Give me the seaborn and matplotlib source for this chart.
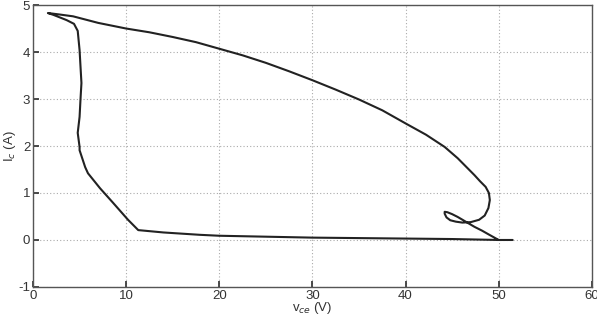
import matplotlib
matplotlib.use("Agg")
import matplotlib.pyplot as plt
import seaborn as sns
import pandas as pd

# Trajectory (v_ce in V, I_c in A)
v_ce = [51.5, 50.0, 49.0, 48.2, 47.4, 46.8, 46.2, 45.6, 45.0, 44.5, 44.2, 44.2, 44.4,
        44.8, 45.4, 46.1, 47.0, 47.9,
        48.5, 48.9, 49.05, 48.95, 48.6, 48.0, 47.4, 46.8, 45.6, 44.2, 42.2, 40.1, 37.5,
        35.0, 32.5, 30.0, 27.5, 25.0, 22.5, 20.0, 17.5, 15.0, 12.5, 10.0, 7.0, 4.3, 2.8, 1.6,
        2.2, 3.6, 4.4, 4.8, 5.0, 5.2, 5.1, 5.0, 4.8, 5.0, 5.0, 5.6, 5.9, 7.2, 8.6, 10.2,
        11.3, 14.0, 17.9, 20.0, 25.0, 30.0, 35.0, 40.0, 45.0, 50.0]
i_c = [0.0, 0.0, 0.11, 0.20, 0.28, 0.35, 0.42, 0.49, 0.55, 0.59, 0.60, 0.56, 0.48,
       0.42, 0.39, 0.37, 0.38, 0.43,
       0.52, 0.68, 0.85, 1.00, 1.13, 1.25, 1.38, 1.50, 1.74, 1.98, 2.24, 2.47, 2.76,
       2.99, 3.20, 3.40, 3.59, 3.77, 3.93, 4.07, 4.21, 4.32, 4.42, 4.50, 4.62, 4.76, 4.80, 4.83,
       4.79, 4.68, 4.60, 4.45, 4.04, 3.34, 3.00, 2.62, 2.28, 1.98, 1.91, 1.55, 1.42, 1.10,
       0.79, 0.43, 0.21, 0.16, 0.11, 0.09, 0.07, 0.05, 0.04, 0.03, 0.02, 0.0]

x_ticks = [0, 10, 20, 30, 40, 50, 60]
y_ticks = [-1, 0, 1, 2, 3, 4, 5]

df = pd.DataFrame({"v": v_ce, "i": i_c})

sns.set_theme(style="ticks")
plt.rcParams["font.family"] = ["Liberation Sans", "DejaVu Sans"]

fig = plt.figure(figsize=(5.97, 3.15), dpi=100)
ax = fig.add_axes([0.0553, 0.089, 0.936, 0.895])

sns.lineplot(data=df, x="v", y="i", sort=False, estimator=None, ax=ax,
             color="#222222", linewidth=1.5)

ax.set_xlim(0, 60)
ax.set_ylim(-1, 5)
ax.set_xticks(x_ticks)
ax.set_yticks(y_ticks)
ax.set_xticklabels([str(t) for t in x_ticks])
ax.set_yticklabels([str(t) for t in y_ticks])
ax.grid(True, linestyle=(0, (1, 2)), color="#aaaaaa", linewidth=0.8)
ax.tick_params(direction="in", length=4, labelsize=9.5, colors="#333333", pad=2)
for s in ax.spines.values():
    s.set_visible(True)
    s.set_color("#555555")
    s.set_linewidth(1.0)

ax.set_xlabel(r"v$_{ce}$ (V)", fontsize=9.5, labelpad=-1, color="#333333")
ax.set_ylabel(r"I$_{c}$ (A)", fontsize=9.5, labelpad=0, color="#333333")

fig.savefig("out.png", dpi=100)
